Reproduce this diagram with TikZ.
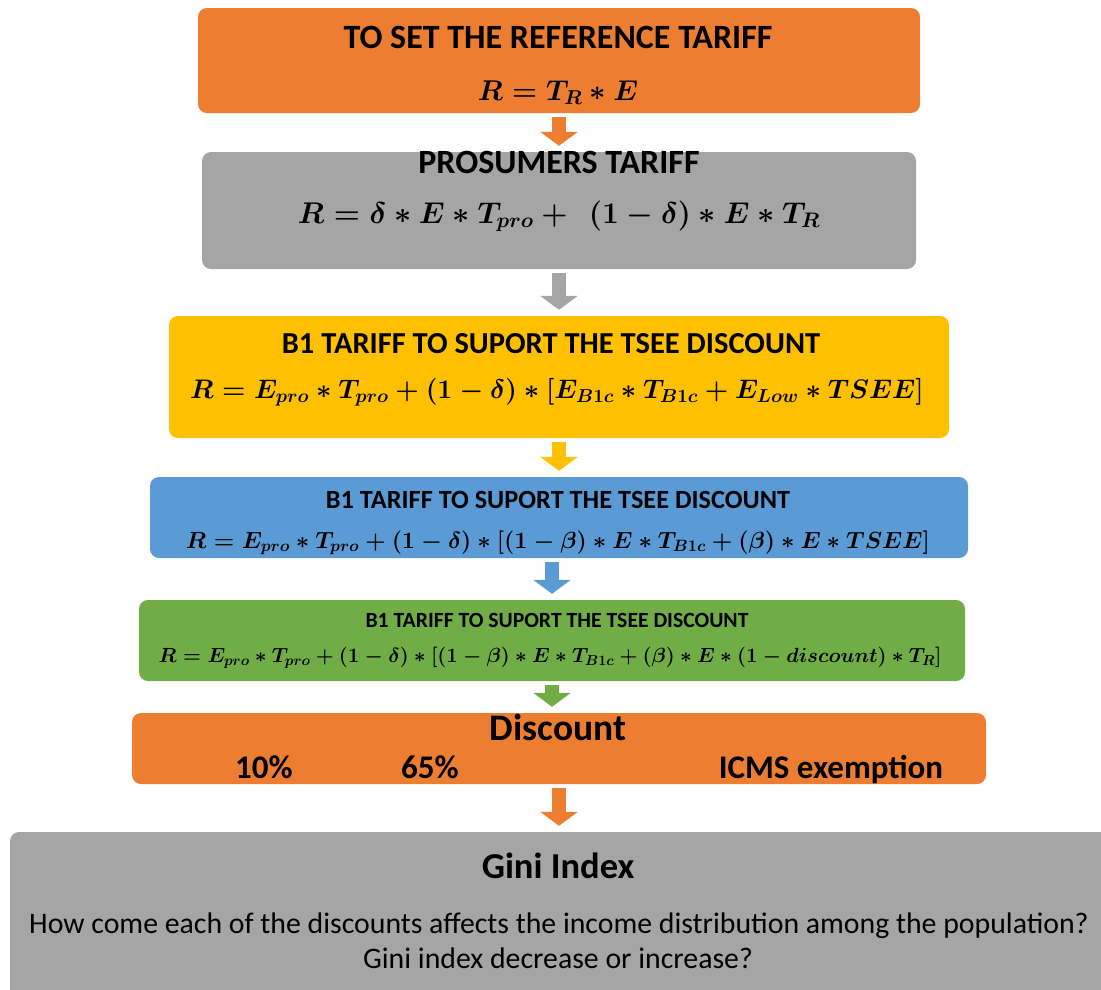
\RequirePackage{fix-cm}
\documentclass[tikz,border=0pt]{standalone}
\usepackage{amsmath}
\usepackage{fontspec}
\setmainfont{Carlito}
\usetikzlibrary{arrows.meta}

\definecolor{tariffOrange}{HTML}{ED7D31}
\definecolor{tariffGray}{HTML}{A5A5A5}
\definecolor{tariffYellow}{HTML}{FFC000}
\definecolor{tariffBlue}{HTML}{5B9BD5}
\definecolor{tariffGreen}{HTML}{70AD47}

\begin{document}
\begin{tikzpicture}[x=1pt, y=-1pt,
    box/.style={rectangle, rounded corners=9pt, inner sep=0pt},
    title/.style={anchor=base, inner sep=0pt, font=\fontsize{#1}{#1}\selectfont\bfseries},
    formula/.style={anchor=base, inner sep=0pt, font=\fontsize{#1}{#1}\selectfont\boldmath},
    plain/.style={anchor=base, inner sep=0pt, font=\fontsize{#1}{#1}\selectfont},
    flow/.style={line width=14pt, draw=#1, -{Triangle[width=37pt 0 0, length=14pt 0 0]}, shorten <=4pt, shorten >=6pt}]
    \useasboundingbox (0,0) rectangle (1101,989);
    % boxes
    \node[box, fill=tariffOrange, minimum width=722pt, minimum height=105pt] (ref) at (559, 60.5) {};
    \node[box, fill=tariffGray, minimum width=714pt, minimum height=117pt] (pros) at (559, 210.5) {};
    \node[box, fill=tariffYellow, minimum width=780pt, minimum height=122pt] (bone) at (559, 377) {};
    \node[box, fill=tariffBlue, minimum width=818pt, minimum height=81pt] (btwo) at (559, 517.5) {};
    \node[box, fill=tariffGreen, minimum width=826pt, minimum height=81pt] (bthree) at (552, 640.5) {};
    \node[box, fill=tariffOrange, minimum width=854pt, minimum height=71pt] (disc) at (559, 748.5) {};
    \node[box, fill=tariffGray, minimum width=1110pt, minimum height=180pt] (gini) at (565, 922) {};
    % texts
    \node[title=34] (reftitle) at (558, 48) {TO SET THE REFERENCE TARIFF};
    \node[formula=28.6] (refeq) at (558, 100) {$R = T_R \ast E$};
    \node[title=34] (prostitle) at (559, 173) {PROSUMERS TARIFF};
    \node[formula=30] (proseq) at (559, 223) {$R = \delta \ast E \ast T_{pro} + \ \ (1-\delta) \ast E \ast T_R$};
    \node[title=30.5] (bonetitle) at (551, 353) {B1 TARIFF TO SUPORT THE TSEE DISCOUNT};
    \node[formula=26.8] (boneeq) at (557, 398) {$R = E_{pro} \ast T_{pro} + (1-\delta) \ast [E_{B1c} \ast T_{B1c} + E_{Low} \ast TSEE]$};
    \node[title=26.3] (btwotitle) at (558, 508) {B1 TARIFF TO SUPORT THE TSEE DISCOUNT};
    \node[formula=23.4] (btwoeq) at (558, 548) {$R = E_{pro} \ast T_{pro} + (1-\delta) \ast [(1-\beta) \ast E \ast T_{B1c} + (\beta) \ast E \ast TSEE]$};
    \node[title=21.7] (bthreetitle) at (557, 627) {B1 TARIFF TO SUPORT THE TSEE DISCOUNT};
    \node[formula=20.5] (bthreeeq) at (550, 662) {$R = E_{pro} \ast T_{pro} + (1-\delta) \ast [(1-\beta) \ast E \ast T_{B1c} + (\beta) \ast E \ast (1-discount) \ast T_R]$};
    \node[title=37.5] (disctitle) at (558, 740) {Discount};
    \node[title=33] (tenpct) at (264, 778) {10\%};
    \node[title=33] (sixtyfive) at (430, 778) {65\%};
    \node[title=33] (icms) at (831, 778) {ICMS exemption};
    \node[title=36.5] (ginititle) at (558, 878) {Gini Index};
    \node[plain=29.8] (giniq) at (559, 933) {How come each of the discounts affects the income distribution among the population?};
    \node[plain=29.8] (ginir) at (558, 968) {Gini index decrease or increase?};
    % arrows
    \draw[flow=tariffOrange] (ref.south) -- (ref.south |- pros.north);
    \draw[flow=tariffGray] (pros.south) -- (pros.south |- bone.north);
    \draw[flow=tariffYellow] (bone.south) -- (bone.south |- btwo.north);
    \draw[flow=tariffBlue] (btwo.south -| bthree.north) -- (bthree.north);
    \draw[flow=tariffGreen] (bthree.south) -- (bthree.south |- disc.north);
    \draw[flow=tariffOrange] (disc.south) -- (disc.south |- gini.north);
\end{tikzpicture}
\end{document}
